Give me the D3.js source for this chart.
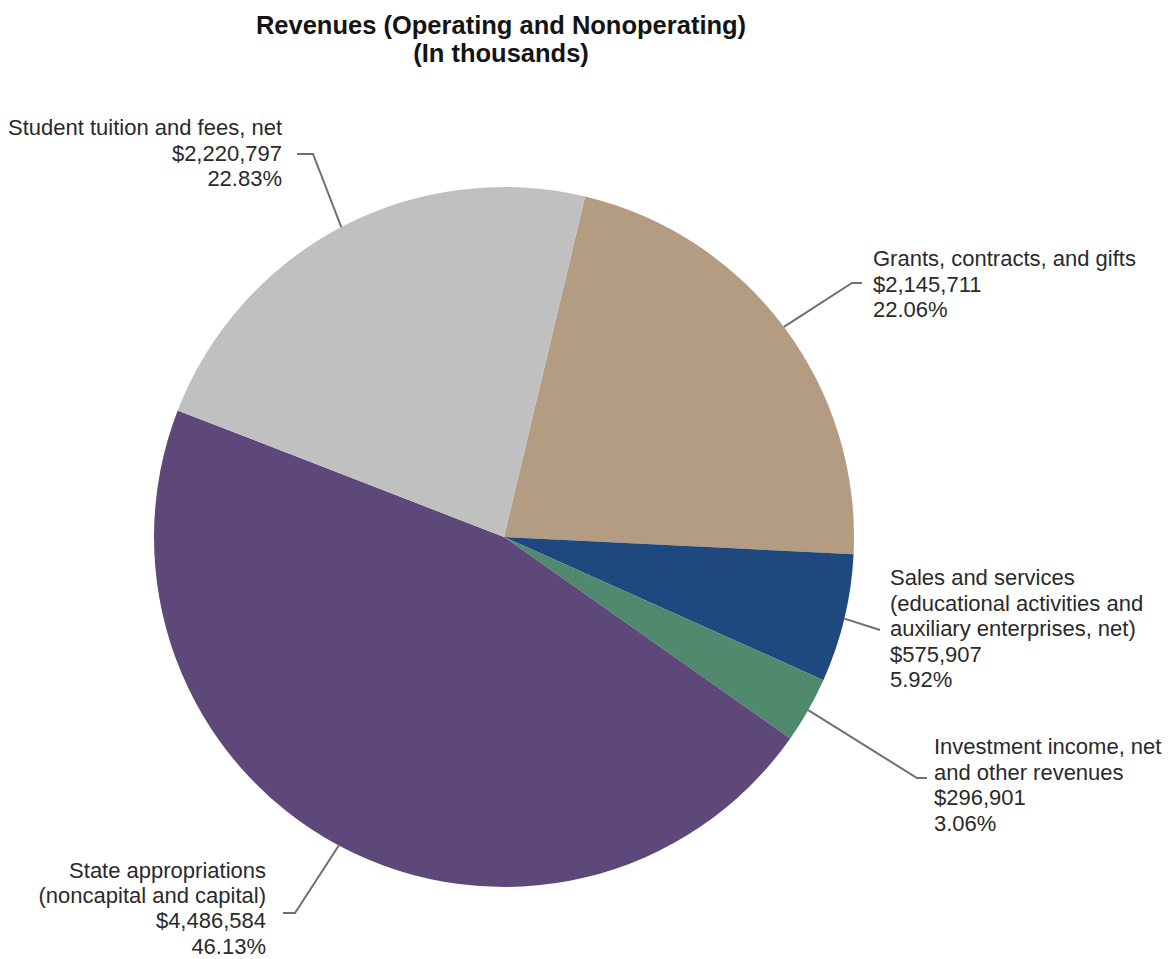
<!DOCTYPE html>
<html>
<head>
<meta charset="utf-8">
<script src="https://cdn.jsdelivr.net/npm/d3@7"></script>
<style>
  html, body { margin: 0; padding: 0; background: #ffffff; }
  svg { display: block; }
</style>
</head>
<body>
<svg id="chart" width="1173" height="959"></svg>
<script>
// ---- data ----
const categories = [
  "Grants, contracts, and gifts",
  "Sales and services (educational activities and auxiliary enterprises, net)",
  "Investment income, net and other revenues",
  "State appropriations (noncapital and capital)",
  "Student tuition and fees, net"
];
const values = [2145711, 575907, 296901, 4486584, 2220797];
const percents = ["22.06%", "5.92%", "3.06%", "46.13%", "22.83%"];
const amountLabels = ["$2,145,711", "$575,907", "$296,901", "$4,486,584", "$2,220,797"];
const labelLines = [
  ["Grants, contracts, and gifts"],
  ["Sales and services", "(educational activities and", "auxiliary enterprises, net)"],
  ["Investment income, net", "and other revenues"],
  ["State appropriations", "(noncapital and capital)"],
  ["Student tuition and fees, net"]
];
const colors = ["#b39c82", "#1f487e", "#4f8a6e", "#5e4779", "#c0c0c0"];
const titleLines = ["Revenues (Operating and Nonoperating)", "(In thousands)"];

// ---- layout ----
const svg = d3.select("#chart");
const cx = 504, cy = 537, R = 350;
const startDeg = 13.4;

const pie = d3.pie().sort(null).value(d => d)
  .startAngle(startDeg * Math.PI / 180)
  .endAngle((startDeg + 360) * Math.PI / 180);
const arcs = pie(values);
const arc = d3.arc().innerRadius(0).outerRadius(R);

const g = svg.append("g").attr("transform", `translate(${cx},${cy})`);
g.selectAll("path.slice").data(arcs).enter().append("path")
  .attr("class", "slice")
  .attr("d", arc)
  .attr("fill", (d, i) => colors[i]);

// title
svg.append("g").selectAll("text").data(titleLines).enter().append("text")
  .attr("x", 501).attr("y", (d, i) => 34 + i * 28)
  .attr("text-anchor", "middle")
  .attr("font-family", "Liberation Sans, Arial, sans-serif")
  .attr("font-weight", "bold")
  .attr("font-size", 25.5)
  .attr("fill", "#141414")
  .text(d => d);

// label placement (block origin, line spacing, leader elbow)
const labelCfg = [
  { x: 873, y: 266, lh: 25.6, anchor: "start", lead: [[862, 283], [852, 283]] },
  { x: 890, y: 585, lh: 25.6, anchor: "start", lead: [[880, 630]] },
  { x: 934, y: 754, lh: 25.6, anchor: "start", lead: [[927, 778], [917, 778]] },
  { x: 266, y: 878, lh: 25.2, anchor: "end",   lead: [[283, 913], [295, 913]] },
  { x: 282, y: 135, lh: 25.6, anchor: "end",   lead: [[297, 154], [313, 154]] }
];
const fontLab = 22;

arcs.forEach((a, i) => {
  const cfg = labelCfg[i];
  const lines = labelLines[i].concat([amountLabels[i], percents[i]]);
  const tg = svg.append("g");
  tg.selectAll("text").data(lines).enter().append("text")
    .attr("x", cfg.x)
    .attr("y", (d, k) => cfg.y + k * cfg.lh)
    .attr("text-anchor", cfg.anchor)
    .attr("font-family", "Liberation Sans, Arial, sans-serif")
    .attr("font-size", fontLab)
    .attr("fill", "#2a2a2a")
    .text(d => d);
  // leader line to slice mid-angle on rim
  const mid = (a.startAngle + a.endAngle) / 2;
  const px = cx + Math.sin(mid) * R, py = cy - Math.cos(mid) * R;
  svg.append("path")
    .attr("d", d3.line()(cfg.lead.concat([[px, py]])))
    .attr("fill", "none")
    .attr("stroke", "#707070")
    .attr("stroke-width", 2);
});
</script>
</body>
</html>
